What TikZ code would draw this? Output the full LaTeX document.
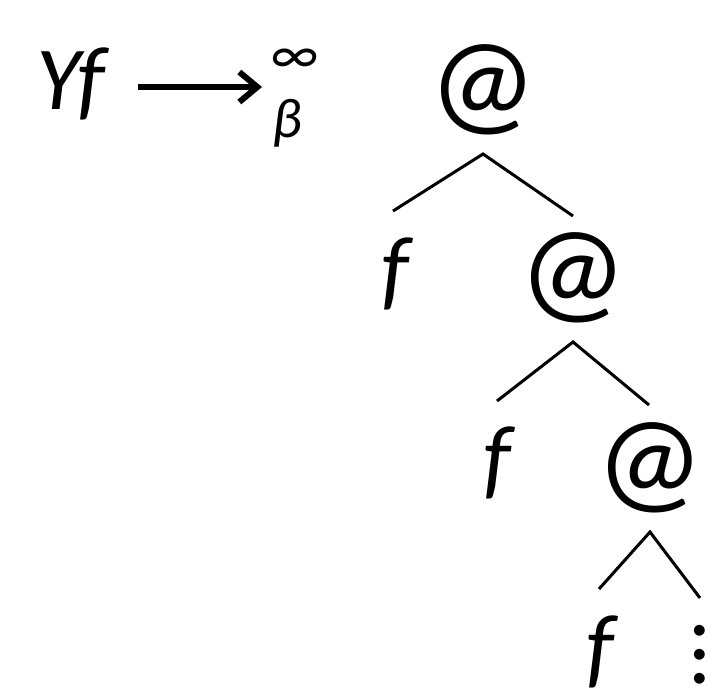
\documentclass[tikz,border=0pt]{standalone}
\usepackage{fontspec}
\setmainfont{Carlito}
\usetikzlibrary{arrows.meta}
\tikzset{
  apply/.style={inner sep=0pt, font=\fontsize{60}{72}\selectfont},
  var/.style={inner sep=0pt, anchor=base, font=\fontsize{45}{54}\selectfont\itshape},
  small/.style={inner sep=0pt, font=\fontsize{28}{34}\selectfont\itshape},
  dotstack/.style={inner sep=0pt, align=center, font=\fontsize{45}{12}\selectfont},
  edge/.style={line width=1.5pt},
  bigarrow/.style={-{Straight Barb[length=9pt, width=15pt]}, line width=3pt},
}

\begin{document}
\begin{tikzpicture}[x=0.5pt, y=-0.5pt]
\useasboundingbox (0,0) rectangle (722,700);
% left hand side
\node[var, anchor=base west] (yf) at (36,110) {Yf};
\node[small] (inf) at (295,61) {∞};
\node[small] (beta) at (287,123) {β};
\coordinate (arrend) at (262,87);
\draw[bigarrow] (yf.east |- arrend) ++(32,0) -- (arrend);
% the tree
\node[apply] (at1) at (483,90) {@};
\node[var] (f1) at (395,299) {f};
\node[apply] (at2) at (573,278) {@};
\node[var] (f2) at (497,488) {f};
\node[apply] (at3) at (650,468) {@};
\node[var] (f3) at (600,677) {f};
\node[dotstack] (more) at (700,655) {.\\.\\.};
\draw[edge] ([shift={(-2,-88)}]f1.base) -- ([shift={(0,64)}]at1.center) -- ([shift={(0,-62)}]at2.center);
\draw[edge] ([shift={(0,-87)}]f2.base) -- ([shift={(0,64)}]at2.center) -- ([shift={(-1,-63)}]at3.center);
\draw[edge] ([shift={(-1,-88)}]f3.base) -- ([shift={(0,64)}]at3.center) -- ([shift={(0,-57)}]more.center);
\end{tikzpicture}
\end{document}
